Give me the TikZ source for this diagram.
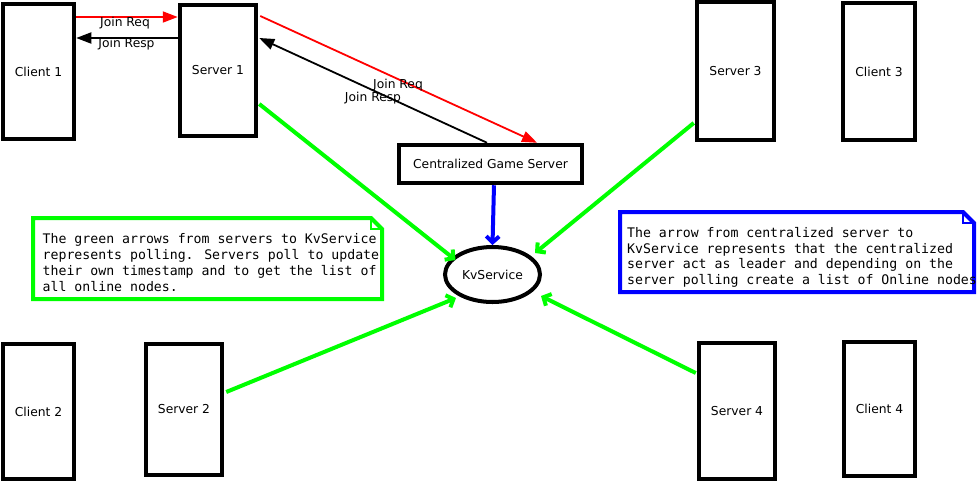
\documentclass[tikz,border=0pt]{standalone}
\usepackage{fontspec}
\setmainfont{DejaVu Sans}
\newfontfamily\notefont{DejaVu Sans Mono}
\usetikzlibrary{arrows.meta,shapes.geometric,calc}
\definecolor{pgreen}{RGB}{0,255,0}
\definecolor{pblue}{RGB}{0,0,255}
\definecolor{pred}{RGB}{255,0,0}
\tikzset{
  hostbox/.style={draw, line width=4pt, rectangle, inner sep=0pt, font=\fontsize{12.3}{14}\selectfont},
  lbl/.style={font=\fontsize{12.3}{14}\selectfont, inner sep=0pt},
  reqline/.style={draw=pred, line width=1.8pt, -{Triangle[length=15pt,width=11pt]}},
  respline/.style={draw=black, line width=1.8pt, -{Triangle[length=15pt,width=11pt]}},
  pollline/.style={draw=pgreen, line width=4pt, -{Straight Barb[length=6pt,width=13pt]}},
  leadline/.style={draw=pblue, line width=4pt, -{Straight Barb[length=6pt,width=13pt]}},
  notetext/.style={font=\notefont\fontsize{13.2}{15.8}\selectfont, align=left, inner sep=0pt, anchor=north west},
}
\begin{document}
\begin{tikzpicture}[x=1pt,y=-1pt]
\useasboundingbox (0,0) rectangle (977,483);
% hosts
\node[hostbox, minimum width=71.5pt, minimum height=135.5pt] (c1) at (38.5,71.5) {Client 1};
\node[hostbox, minimum width=76.5pt, minimum height=131.5pt] (s1) at (218,70.5) {Server 1};
\node[hostbox, minimum width=77.5pt, minimum height=138.5pt] (s3) at (735.5,71) {Server 3};
\node[hostbox, minimum width=72.5pt, minimum height=137.5pt] (c3) at (879,71.5) {Client 3};
\node[hostbox, minimum width=71.5pt, minimum height=135.5pt] (c2) at (38.5,411.5) {Client 2};
\node[hostbox, minimum width=76.5pt, minimum height=131.5pt] (s2) at (184,409.5) {Server 2};
\node[hostbox, minimum width=76.5pt, minimum height=136.5pt] (s4) at (737,411) {Server 4};
\node[hostbox, minimum width=71.5pt, minimum height=134.5pt] (c4) at (879.5,409) {Client 4};
\node[hostbox, minimum width=183.5pt, minimum height=38.5pt] (cgs) at (490.5,164) {Centralized Game Server};
\node[draw, ellipse, line width=4pt, minimum width=95pt, minimum height=55pt, inner sep=0pt, font=\fontsize{12.3}{14}\selectfont] (kv) at (492.5,274.5) {KvService};
% end points on the KvService border
\coordinate (k1) at ($(kv)+(-37,-14.5)$);
\coordinate (k3) at ($(kv)+(42.5,-21.5)$);
\coordinate (k2) at ($(kv)+(-36.5,23.5)$);
\coordinate (k4) at ($(kv)+(48.5,21.5)$);
% client1 <-> server1
\draw[reqline] (c1.east |- 0,17) -- (s1.west |- 0,17);
\draw[respline] (s1.west |- 0,38) -- (c1.east |- 0,38);
\node[lbl] (l1) at (125,23) {Join Req};
\node[lbl] (l2) at (126.5,44.5) {Join Resp};
% server1 <-> centralized
\draw[reqline] ([xshift=2pt]s1.east |- 0,16) -- (cgs.north -| 537,0);
\draw[respline] (cgs.north -| 487,0) -- ([xshift=1pt]s1.east |- 0,38);
\node[lbl] (l3) at (398,85.5) {Join Req};
\node[lbl] (l4) at (373,97.8) {Join Resp};
% leader arrow
\draw[leadline] (cgs.south -| 494,0) -- (kv.north);
% polling arrows
\draw[pollline] ([xshift=1pt]s1.east |- 0,104) -- (k1);
\draw[pollline] ([xshift=-1pt]s3.west |- 0,123) -- (k3);
\draw[pollline] ([xshift=2pt]s2.east |- 0,392) -- (k2);
\draw[pollline] ([xshift=-1pt]s4.west |- 0,373) -- (k4);
% notes
\draw[draw=pgreen, line width=4pt, fill=white] (33,218) -- (371,218) -- (382,229) -- (382,299) -- (33,299) -- cycle;
\draw[draw=pgreen, line width=2pt] (371,218) -- (371,229) -- (382,229);
\node[notetext] (n1) at (42.5,233.5) {The green arrows from servers to KvService\\represents polling. Servers poll to update\\their own timestamp and to get the list of\\all online nodes.};
\draw[draw=pblue, line width=4pt, fill=white] (620,212) -- (963,212) -- (974,223) -- (974,292) -- (620,292) -- cycle;
\draw[draw=pblue, line width=2pt] (963,212) -- (963,223) -- (974,223);
\node[notetext] (n2) at (627,227) {The arrow from centralized server to\\KvService represents that the centralized\\server act as leader and depending on the\\server polling create a list of Online nodes};
\end{tikzpicture}
\end{document}
